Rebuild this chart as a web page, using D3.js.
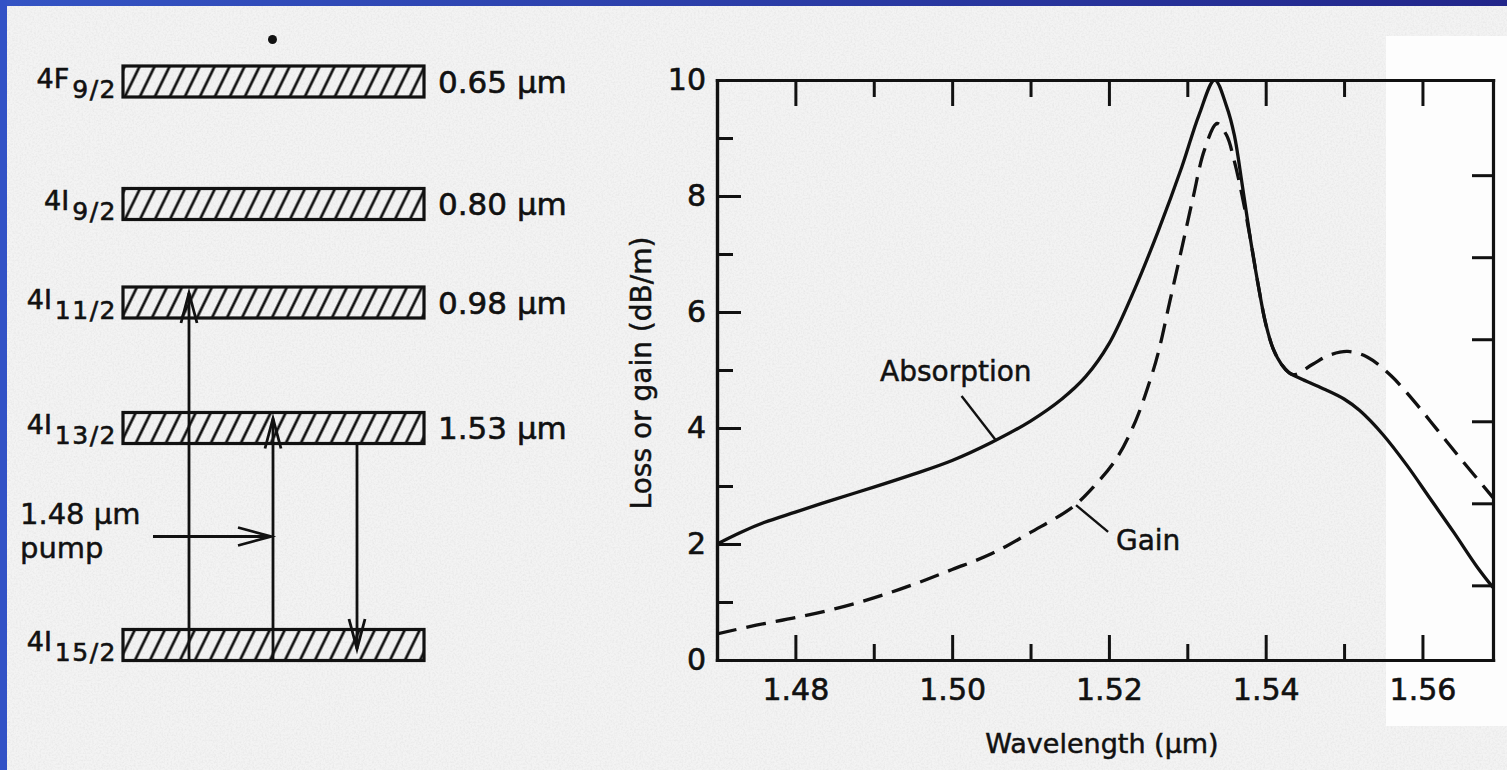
<!DOCTYPE html>
<html>
<head>
<meta charset="utf-8">
<script src="https://cdn.jsdelivr.net/npm/d3@7"></script>
<style>
  body { margin: 0; background: #f0f0f0; }
  svg { display: block; }
</style>
</head>
<body>
<div id="chart"></div>
<script>
// ---- spectrum ----
const absWavelength = [1.470, 1.473, 1.476, 1.480, 1.485, 1.490, 1.495, 1.500, 1.505, 1.510,
  1.514, 1.517, 1.520, 1.5233, 1.5263, 1.5293, 1.5315, 1.5335, 1.535, 1.536,
  1.537, 1.538, 1.539, 1.540, 1.541, 1.542, 1.543, 1.5445, 1.547, 1.550,
  1.552, 1.555, 1.558, 1.561, 1.564, 1.567, 1.569];
const absorption = [2.0, 2.2, 2.37, 2.55, 2.77, 2.98, 3.2, 3.44, 3.75, 4.12,
  4.5, 4.88, 5.45, 6.4, 7.4, 8.5, 9.4, 10.0, 9.55, 9.05,
  8.2, 7.3, 6.5, 5.8, 5.35, 5.1, 4.95, 4.85, 4.7, 4.5,
  4.3, 3.88, 3.36, 2.78, 2.2, 1.6, 1.25];

const gainWavelength = [1.470, 1.475, 1.480, 1.485, 1.490, 1.495, 1.500, 1.505, 1.510, 1.5153,
  1.518, 1.521, 1.5234, 1.5252, 1.5263, 1.5278, 1.5293, 1.5307, 1.5322, 1.5338,
  1.535, 1.536, 1.537, 1.538, 1.539, 1.540, 1.541, 1.542, 1.5435, 1.546,
  1.548, 1.5505, 1.553, 1.556, 1.559, 1.562, 1.565, 1.569];
const gain = [0.45, 0.6, 0.73, 0.88, 1.07, 1.3, 1.56, 1.83, 2.2, 2.63,
  2.98, 3.48, 4.12, 4.8, 5.3, 6.2, 7.1, 7.95, 8.8, 9.25,
  9.05, 8.6, 8.0, 7.3, 6.5, 5.8, 5.35, 5.1, 4.92, 5.1,
  5.25, 5.32, 5.22, 4.9, 4.45, 3.95, 3.45, 2.8];

const xMajor = [1.48, 1.50, 1.52, 1.54, 1.56];
const xMinor = [1.49, 1.51, 1.53, 1.55];
const yMajor = [0, 2, 4, 6, 8, 10];
const yMinor = [1, 3, 5, 7, 9];
const rightTicks = [1, 2, 3, 4, 5, 6];

// label anchors and leader lines, in data units
const annoLabel = ["Absorption", "Gain"];
const annoText = [[1.4908, 4.81], [1.5209, 1.9]];
const annoFrom = [[1.5012, 4.55], [1.5158, 2.67]];
const annoTo = [[1.5055, 3.8], [1.5199, 2.21]];

// ---- Er3+ energy levels ----
const levelTerm = ["4F", "4I", "4I", "4I", "4I"];
const levelJ = ["9/2", "9/2", "11/2", "13/2", "15/2"];
const levelWavelength = [0.65, 0.80, 0.98, 1.53, null];   // µm above ground
const transFrom = [4, 4, 3];   // level index
const transTo = [2, 3, 4];
const pumpLabel = ["1.48 µm", "pump"];

const W = 1507, H = 770;
const ink = "#111";
const font = "DejaVu Sans, sans-serif";

const svg = d3.select("#chart").append("svg")
    .attr("width", W)
    .attr("height", H);
const defs = svg.append("defs");

// paper grain
const grain = defs.append("filter").attr("id", "grain")
    .attr("x", 0).attr("y", 0).attr("width", 1).attr("height", 1);
grain.append("feTurbulence").attr("type", "fractalNoise")
    .attr("baseFrequency", 0.55).attr("numOctaves", 3).attr("seed", 4);
grain.append("feColorMatrix").attr("type", "matrix")
    .attr("values", "0 0 0 0 0.55  0 0 0 0 0.55  0 0 0 0 0.55  0.45 0 0 0 -0.17");

// paper + scanner border
svg.append("rect").attr("width", W).attr("height", H).attr("fill", "#f3f3f3");
svg.append("rect").attr("width", W).attr("height", H).attr("filter", "url(#grain)");
svg.append("rect").attr("x", 1386).attr("y", 36).attr("width", 121).attr("height", 690).attr("fill", "#fdfdfd");
const grad = defs.append("linearGradient").attr("id", "band");
grad.append("stop").attr("offset", "0%").attr("stop-color", "#3454c4");
grad.append("stop").attr("offset", "100%").attr("stop-color", "#22268a");
svg.append("rect").attr("width", W).attr("height", 6).attr("fill", "url(#band)");
svg.append("rect").attr("width", 7).attr("height", H).attr("fill", "#3252c6");

// hatch pattern for the level bands
defs.append("pattern")
    .attr("id", "hatch")
    .attr("patternUnits", "userSpaceOnUse")
    .attr("width", 15).attr("height", 40)
    .attr("patternTransform", "skewX(-26)")
    .append("line")
    .attr("x1", 7).attr("x2", 7).attr("y1", -5).attr("y2", 45)
    .attr("stroke", ink).attr("stroke-width", 3);

// ================= level diagram =================
const energy = levelWavelength.map(d => d ? 1 / d : 0);
const levelY = d3.scaleLinear()
    .domain([0, 1 / 1.53, 1 / 0.98, 1 / 0.80, 1 / 0.65])
    .range([645, 428, 302.5, 204, 81.5]);
const barX = d3.scaleLinear().domain([0, 1]).range([123, 424]);
const barH = 31;
const slotX = d3.scalePoint().domain([0, 1, 2]).range([189, 357]);

const diag = svg.append("g");

diag.selectAll("rect.level")
    .data(energy)
    .join("rect")
    .attr("class", "level")
    .attr("x", barX(0))
    .attr("y", d => levelY(d) - barH / 2)
    .attr("width", barX(1) - barX(0))
    .attr("height", barH)
    .attr("fill", "url(#hatch)")
    .attr("stroke", ink)
    .attr("stroke-width", 3.2);

const lab = diag.selectAll("text.term")
    .data(energy)
    .join("text")
    .attr("class", "term")
    .attr("x", barX(0) - 6)
    .attr("y", d => levelY(d) + 6)
    .attr("text-anchor", "end")
    .attr("font-family", font)
    .attr("font-size", 27)
    .attr("fill", ink).attr("stroke", ink).attr("stroke-width", 0.6);
lab.append("tspan").text((d, i) => levelTerm[i]);
lab.append("tspan")
    .attr("dx", 3).attr("dy", 10)
    .attr("font-size", 25)
    .attr("letter-spacing", 1.5)
    .text((d, i) => levelJ[i]);

diag.selectAll("text.wl")
    .data(levelWavelength.filter(d => d))
    .join("text")
    .attr("class", "wl")
    .attr("x", barX(1) + 14)
    .attr("y", d => levelY(1 / d) + 11)
    .attr("font-family", font)
    .attr("font-size", 31)
    .attr("fill", ink).attr("stroke", ink).attr("stroke-width", 0.6)
    .text(d => d.toFixed(2) + " µm");

// dot above the top level
diag.append("circle")
    .attr("cx", 272.5).attr("cy", levelY(energy[0]) - 42).attr("r", 4.5)
    .attr("fill", ink);

// transitions
function arrowHead(g, x, y, dir, len, spread) {
  // open V, dir = -1 up, +1 down, or "right"
  let p;
  if (dir === "right") p = [[x - len, y - spread], [x, y], [x - len, y + spread]];
  else p = [[x - spread, y - dir * len], [x, y], [x + spread, y - dir * len]];
  g.append("path")
      .attr("d", d3.line()(p))
      .attr("fill", "none").attr("stroke", ink).attr("stroke-width", 2.8);
}

transFrom.forEach((f, i) => {
  const up = energy[transTo[i]] > energy[f];
  const x = slotX(i);
  const yFrom = levelY(energy[f]) + barH / 2;
  const yTo = up ? levelY(energy[transTo[i]]) - barH / 2 + 6
                 : levelY(energy[transTo[i]]) + 4;
  diag.append("line")
      .attr("x1", x).attr("x2", x)
      .attr("y1", yFrom).attr("y2", yTo)
      .attr("stroke", ink).attr("stroke-width", 2.8);
  arrowHead(diag, x, yTo, up ? -1 : 1, 30, 8);
});

// 1.48 µm pump
const pumpY = (levelY(energy[3]) + levelY(energy[4])) / 2;
diag.append("line")
    .attr("x1", 153).attr("x2", slotX(1) - 2)
    .attr("y1", pumpY).attr("y2", pumpY)
    .attr("stroke", ink).attr("stroke-width", 2.8);
arrowHead(diag, slotX(1) - 2, pumpY, "right", 33, 9);
diag.selectAll("text.pump")
    .data(pumpLabel)
    .join("text")
    .attr("class", "pump")
    .attr("x", 20)
    .attr("y", (d, i) => pumpY - 13 + i * 34)
    .attr("font-family", font)
    .attr("font-size", 29)
    .attr("fill", ink).attr("stroke", ink).attr("stroke-width", 0.5)
    .text(d => d);

// ================= spectrum =================
const x = d3.scaleLinear().domain([1.47, 1.569]).range([717, 1493]);
const y = d3.scaleLinear().domain([0, 10]).range([660, 80]);
const yR = d3.scaleLinear().domain([0.09, 7.16]).range([660, 80]);
const plotBottom = y.range()[0], plotTop = y.range()[1];

const plot = svg.append("g");

defs.append("clipPath").attr("id", "clip")
    .append("rect").attr("x", x.range()[0]).attr("y", plotTop - 1)
    .attr("width", x.range()[1] - x.range()[0]).attr("height", plotBottom - plotTop + 1);

const line = d3.line()
    .x(d => x(d[0]))
    .y(d => y(d[1]))
    .curve(d3.curveCatmullRom.alpha(0.5));

plot.append("path")
    .attr("d", line(d3.zip(absWavelength, absorption)))
    .attr("clip-path", "url(#clip)")
    .attr("fill", "none").attr("stroke", ink).attr("stroke-width", 3.3);

plot.append("path")
    .attr("d", line(d3.zip(gainWavelength, gain)))
    .attr("clip-path", "url(#clip)")
    .attr("fill", "none").attr("stroke", ink).attr("stroke-width", 3.3)
    .attr("stroke-dasharray", "20,10");

function styleAxis(g, fs) {
  g.select(".domain").attr("stroke", ink).attr("stroke-width", 3.2).attr("stroke-linecap", "square");
  g.selectAll(".tick line").attr("stroke", ink).attr("stroke-width", 3);
  g.selectAll(".tick text").attr("fill", ink).attr("stroke", ink).attr("stroke-width", 0.6)
      .attr("font-family", font).attr("font-size", fs);
}

plot.append("g").attr("transform", `translate(0,${plotBottom})`)
    .call(d3.axisBottom(x).tickValues(xMajor).tickSize(-25).tickSizeOuter(0).tickPadding(19).tickFormat(d3.format(".2f")))
    .call(g => styleAxis(g, 30));
plot.append("g").attr("transform", `translate(0,${plotBottom})`)
    .call(d3.axisBottom(x).tickValues(xMinor).tickSize(-16).tickSizeOuter(0).tickFormat(""))
    .call(g => styleAxis(g, 30));
plot.append("g").attr("transform", `translate(0,${plotTop})`)
    .call(d3.axisTop(x).tickValues(xMajor).tickSize(-26).tickSizeOuter(0).tickFormat(""))
    .call(g => styleAxis(g, 30));
plot.append("g").attr("transform", `translate(0,${plotTop})`)
    .call(d3.axisTop(x).tickValues(xMinor).tickSize(-17).tickSizeOuter(0).tickFormat(""))
    .call(g => styleAxis(g, 30));
plot.append("g").attr("transform", `translate(${x.range()[0]},0)`)
    .call(d3.axisLeft(y).tickValues(yMajor).tickSize(-24).tickSizeOuter(0).tickPadding(11))
    .call(g => styleAxis(g, 30));
plot.append("g").attr("transform", `translate(${x.range()[0]},0)`)
    .call(d3.axisLeft(y).tickValues(yMinor).tickSize(-16).tickSizeOuter(0).tickFormat(""))
    .call(g => styleAxis(g, 30));
plot.append("g").attr("transform", `translate(${x.range()[1]},0)`)
    .call(d3.axisRight(yR).tickValues(rightTicks).tickSize(-21).tickSizeOuter(0).tickFormat(""))
    .call(g => styleAxis(g, 30));

// annotations
annoLabel.forEach((t, i) => {
  plot.append("line")
      .attr("x1", x(annoFrom[i][0])).attr("y1", y(annoFrom[i][1]))
      .attr("x2", x(annoTo[i][0])).attr("y2", y(annoTo[i][1]))
      .attr("stroke", ink).attr("stroke-width", 2.4);
  plot.append("text")
      .attr("x", x(annoText[i][0])).attr("y", y(annoText[i][1]))
      .attr("font-family", font).attr("font-size", 28)
      .attr("fill", ink).attr("stroke", ink).attr("stroke-width", 0.5)
      .text(t);
});

// axis titles
plot.append("text")
    .attr("x", (x.range()[0] + x.range()[1]) / 2 - 3)
    .attr("y", 753)
    .attr("text-anchor", "middle")
    .attr("font-family", font).attr("font-size", 27)
    .attr("fill", ink).attr("stroke", ink).attr("stroke-width", 0.5)
    .text("Wavelength (µm)");

plot.append("text")
    .attr("transform", `translate(651,${(plotBottom + plotTop) / 2 + 3}) rotate(-90)`)
    .attr("text-anchor", "middle")
    .attr("font-family", font).attr("font-size", 28)
    .attr("fill", ink).attr("stroke", ink).attr("stroke-width", 0.5)
    .text("Loss or gain (dB/m)");
</script>
</body>
</html>
